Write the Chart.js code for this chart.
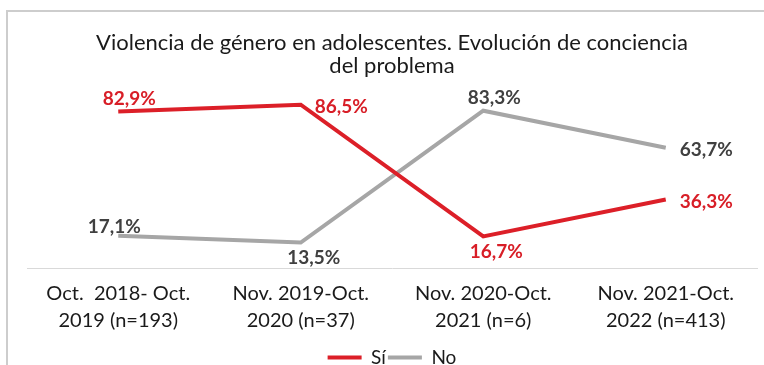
<!DOCTYPE html>
<html>
<head>
<meta charset="utf-8">
<script src="https://cdn.jsdelivr.net/npm/chart.js@4"></script>
<style>
  html, body { margin: 0; padding: 0; background: #fff; }
  #wrap { position: relative; width: 764px; height: 365px; overflow: hidden; }
  #marco { position: absolute; left: 6px; top: 10px; width: 770px; height: 370px;
           border-top: 2px solid #cdcdcd; border-left: 2px solid #cdcdcd; }
  canvas { position: absolute; left: 0; top: 0; }
</style>
</head>
<body>
<div id="wrap">
  <div id="marco"></div>
  <canvas id="chart" width="764" height="365"></canvas>
</div>
<script>
// Datos
const categorias = [
  ['Oct.  2018- Oct.', '2019 (n=193)'],
  ['Nov. 2019-Oct.', '2020 (n=37)'],
  ['Nov. 2020-Oct.', '2021 (n=6)'],
  ['Nov. 2021-Oct.', '2022 (n=413)']
];
const valoresSi = [82.9, 86.5, 16.7, 36.3];
const valoresNo = [17.1, 13.5, 83.3, 63.7];

const titulo = ['Violencia de género en adolescentes. Evolución de conciencia', 'del problema'];

const ROJO = '#dc1f28';
const GRIS = '#a6a6a6';
const FUENTE = 'Lato, "Liberation Sans", sans-serif';

// donde va cada etiqueta respecto a su punto
const posiciones = [
  ['arriba', 'derecha', 'abajo', 'derecha'],
  ['arribaIzq', 'abajo', 'arriba', 'derecha']
];
const desplaz = {
  arriba:    { dx: 11, dy: -13, align: 'center' },
  arribaIzq: { dx: -4, dy: -9,  align: 'center' },
  abajo:     { dx: 13, dy: 15,  align: 'center' },
  derecha:   { dx: 14, dy: 2,   align: 'left' }
};

const etiquetas = {
  id: 'etiquetas',
  afterDatasetsDraw(chart) {
    const ctx = chart.ctx;
    ctx.save();
    ctx.font = 'bold 19px ' + FUENTE;
    ctx.textBaseline = 'middle';
    chart.data.datasets.forEach((ds, i) => {
      const meta = chart.getDatasetMeta(i);
      meta.data.forEach((pt, j) => {
        const p = desplaz[posiciones[i][j]];
        const txt = ds.data[j].toFixed(1).replace('.', ',') + '%';
        ctx.fillStyle = ds.etiquetaColor;
        ctx.textAlign = p.align;
        ctx.fillText(txt, pt.x + p.dx, pt.y + p.dy);
      });
    });
    ctx.restore();
  }
};

new Chart(document.getElementById('chart'), {
  type: 'line',
  data: {
    labels: categorias,
    datasets: [
      { label: 'Sí', data: valoresSi, borderColor: ROJO, backgroundColor: ROJO,
        borderWidth: 4, pointRadius: 0, etiquetaColor: '#d81e27' },
      { label: 'No', data: valoresNo, borderColor: GRIS, backgroundColor: GRIS,
        borderWidth: 4, pointRadius: 0, etiquetaColor: '#404040' }
    ]
  },
  options: {
    responsive: false,
    animation: false,
    layout: { padding: { left: 27, right: 7, top: 31, bottom: -12 } },
    plugins: {
      title: {
        display: true,
        text: titulo,
        color: '#1a1a1a',
        font: { family: FUENTE, size: 22, weight: 'normal', lineHeight: 1.05 },
        padding: { top: 0, bottom: 2 }
      },
      legend: {
        position: 'bottom',
        labels: {
          usePointStyle: true,
          pointStyle: 'line',
          pointStyleWidth: 34,
          padding: 2,
          color: '#1a1a1a',
          font: { family: FUENTE, size: 19 }
        }
      },
      tooltip: { enabled: false }
    },
    scales: {
      x: {
        offset: true,
        grid: { display: false, drawTicks: false },
        border: { display: true, color: '#d9d9d9', width: 1 },
        ticks: {
          padding: 12,
          color: '#1a1a1a',
          maxRotation: 0,
          autoSkip: false,
          font: { family: FUENTE, size: 20, lineHeight: 1.35 }
        }
      },
      y: {
        display: false,
        min: 0,
        max: 100
      }
    }
  },
  plugins: [etiquetas]
});
</script>
</body>
</html>
